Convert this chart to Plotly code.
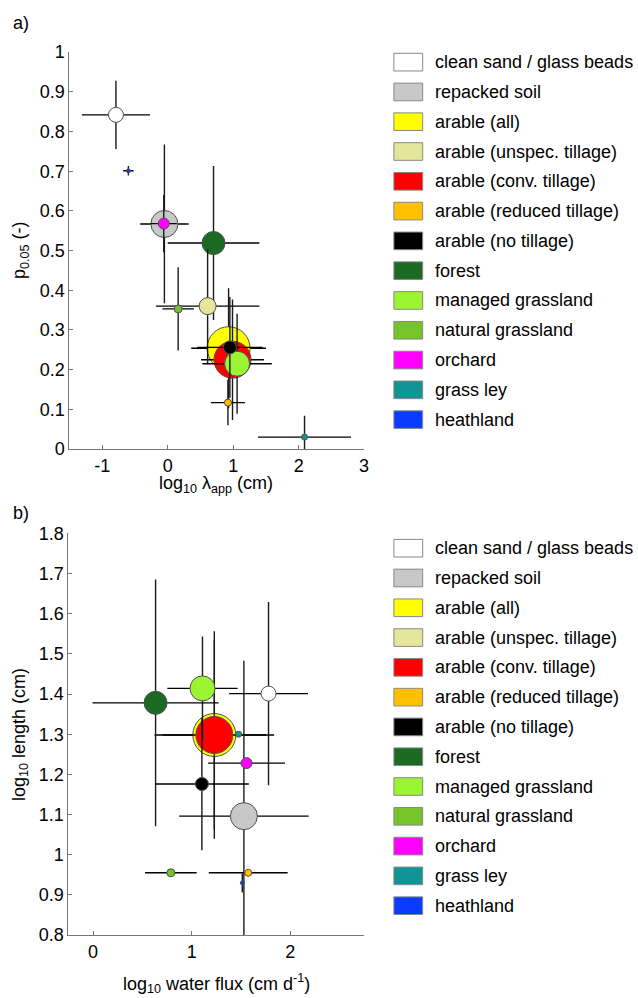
import plotly.graph_objects as go

# ---- categories and styling -------------------------------------------------
categories = [
    "clean sand / glass beads", "repacked soil", "arable (all)",
    "arable (unspec. tillage)", "arable (conv. tillage)", "arable (reduced tillage)",
    "arable (no tillage)", "forest", "managed grassland", "natural grassland",
    "orchard", "grass ley", "heathland",
]
colors = [
    "#ffffff", "#c8c8c8", "#ffff00", "#e6e59c", "#ff0000", "#ffc000",
    "#000000", "#1b6b25", "#9cf533", "#74c42a", "#ff00ff", "#109494", "#0a3cff",
]
# marker diameter (px), scaled with the number of observations per class
sizes = [15, 27, 43, 17, 37, 7, 13, 23, 25, 8, 11, 6, 4]

# ---- panel a: p0.05 vs log10 lambda_app -------------------------------------
a_x = [-0.79, -0.05, 0.93, 0.61, 0.99, 0.92, 0.95, 0.70, 1.06, 0.16, -0.06, 2.09, -0.60]
a_xerr = [0.52, 0.37, 0.57, 0.79, 0.48, 0.26, 0.50, 0.70, 0.53, 0.24, 0.20, 0.71, 0.08]
a_y = [0.842, 0.567, 0.254, 0.360, 0.225, 0.117, 0.256, 0.519, 0.215, 0.353, 0.568, 0.030, 0.701]
a_yerr = [0.086, 0.200, 0.151, 0.143, 0.152, 0.057, 0.127, 0.194, 0.126, 0.105, 0.072, 0.054, 0.012]

# ---- panel b: log10 length vs log10 water flux ------------------------------
b_x = [1.78, 1.53, 1.23, None, 1.23, 1.574, 1.104, 0.634, 1.11, 0.789, 1.557, 1.476, 1.514]
b_xerr = [0.40, 0.657, 0.607, 0.0, 0.527, 0.40, 0.476, 0.64, 0.357, 0.262, 0.39, 0.0, 0.0]
b_y = [1.401, 1.096, 1.298, None, 1.298, 0.955, 1.176, 1.378, 1.414, 0.955, 1.228, 1.300, 0.930]
b_yerr = [0.228, 0.387, 0.236, 0.0, 0.258, 0.0, 0.165, 0.307, 0.129, 0.0, 0.0, 0.0, 0.024]

a_xticks = [-1, 0, 1, 2, 3]
a_yticks = [0, 0.1, 0.2, 0.3, 0.4, 0.5, 0.6, 0.7, 0.8, 0.9, 1]
b_xticks = [0, 1, 2]
b_yticks = [0.8, 0.9, 1.0, 1.1, 1.2, 1.3, 1.4, 1.5, 1.6, 1.7, 1.8]

W, H = 638, 998
FONT = "Liberation Sans, Arial, sans-serif"
FS = 18


def px(x):
    return x / W


def py(y):
    return 1 - y / H


fig = go.Figure()

# draw big circles first so the smaller classes and their bars stay visible
order = sorted(range(len(categories)), key=lambda i: -sizes[i])


def add_panel(xs, xerrs, ys, yerrs, xa, ya):
    for i in order:
        if xs[i] is None:
            continue
        fig.add_trace(go.Scatter(
            x=[xs[i]], y=[ys[i]], xaxis=xa, yaxis=ya, mode="markers",
            name=categories[i], showlegend=False, cliponaxis=True,
            marker=dict(size=sizes[i], color=colors[i],
                        line=dict(color="#505050", width=1)),
            error_x=dict(type="data", array=[xerrs[i]], color="#000000",
                         thickness=1.4, width=0, visible=xerrs[i] > 0),
            error_y=dict(type="data", array=[yerrs[i]], color="#1a1a1a",
                         thickness=1.4, width=0, visible=yerrs[i] > 0),
        ))


add_panel(a_x, a_xerr, a_y, a_yerr, "x", "y")
add_panel(b_x, b_xerr, b_y, b_yerr, "x2", "y2")

axis_common = dict(
    showline=True, linecolor="#777777", linewidth=1, mirror=False,
    ticks="inside", ticklen=4, tickcolor="#777777", showgrid=False,
    zeroline=False, tickfont=dict(family=FONT, size=FS, color="#000000"),
)


def labels(vals):
    return [f"{v:g}" for v in vals]


fig.update_layout(
    width=W, height=H, margin=dict(l=0, r=0, t=0, b=0),
    paper_bgcolor="white", plot_bgcolor="white",
    font=dict(family=FONT, size=FS, color="#000000"),
    xaxis=dict(axis_common, domain=[px(70), px(367)], range=[-1.5, 3],
               tickvals=a_xticks, ticktext=labels(a_xticks), anchor="y"),
    yaxis=dict(axis_common, domain=[py(448), py(43)], range=[0, 1],
               tickvals=a_yticks, ticktext=labels(a_yticks), anchor="x"),
    xaxis2=dict(axis_common, domain=[px(69), px(367)], range=[-0.25, 2.75],
                tickvals=b_xticks, ticktext=labels(b_xticks), anchor="y2"),
    yaxis2=dict(axis_common, domain=[py(944), py(534)], range=[0.8, 1.8],
                tickvals=b_yticks, ticktext=labels(b_yticks), anchor="x2"),
)

annotations = [
    dict(text="a)", x=px(11), y=py(13), xanchor="left", yanchor="middle"),
    dict(text="b)", x=px(11), y=py(513), xanchor="left", yanchor="middle"),
    dict(text="log<sub>10</sub> λ<sub>app</sub> (cm)", x=px(218), y=py(484),
         xanchor="center", yanchor="middle"),
    dict(text="p<sub>0.05</sub> (-)", x=px(20), y=py(245), textangle=-90,
         xanchor="center", yanchor="middle"),
    dict(text="log<sub>10</sub> water flux (cm d<sup>-1</sup>)", x=px(218), y=py(993),
         xanchor="center", yanchor="middle"),
    dict(text="log<sub>10</sub> length (cm)", x=px(20), y=py(739), textangle=-90,
         xanchor="center", yanchor="middle"),
]

# legend blocks beside each panel
shapes = []
for top in (53.2, 549.2):
    for i, (name, col) in enumerate(zip(categories, colors)):
        yc = top + i * 30.4
        shapes.append(dict(type="rect", xref="paper", yref="paper",
                           x0=px(397), x1=px(426), y0=py(yc + 9), y1=py(yc - 9),
                           fillcolor=col, line=dict(color="#888888", width=1)))
        annotations.append(dict(text=name, x=px(436), y=py(yc), xanchor="left",
                                yanchor="middle"))

for ann in annotations:
    ann.update(xref="paper", yref="paper", showarrow=False,
               font=dict(family=FONT, size=FS, color="#000000"))

fig.update_layout(annotations=annotations, shapes=shapes)

fig.write_html("out.html")
